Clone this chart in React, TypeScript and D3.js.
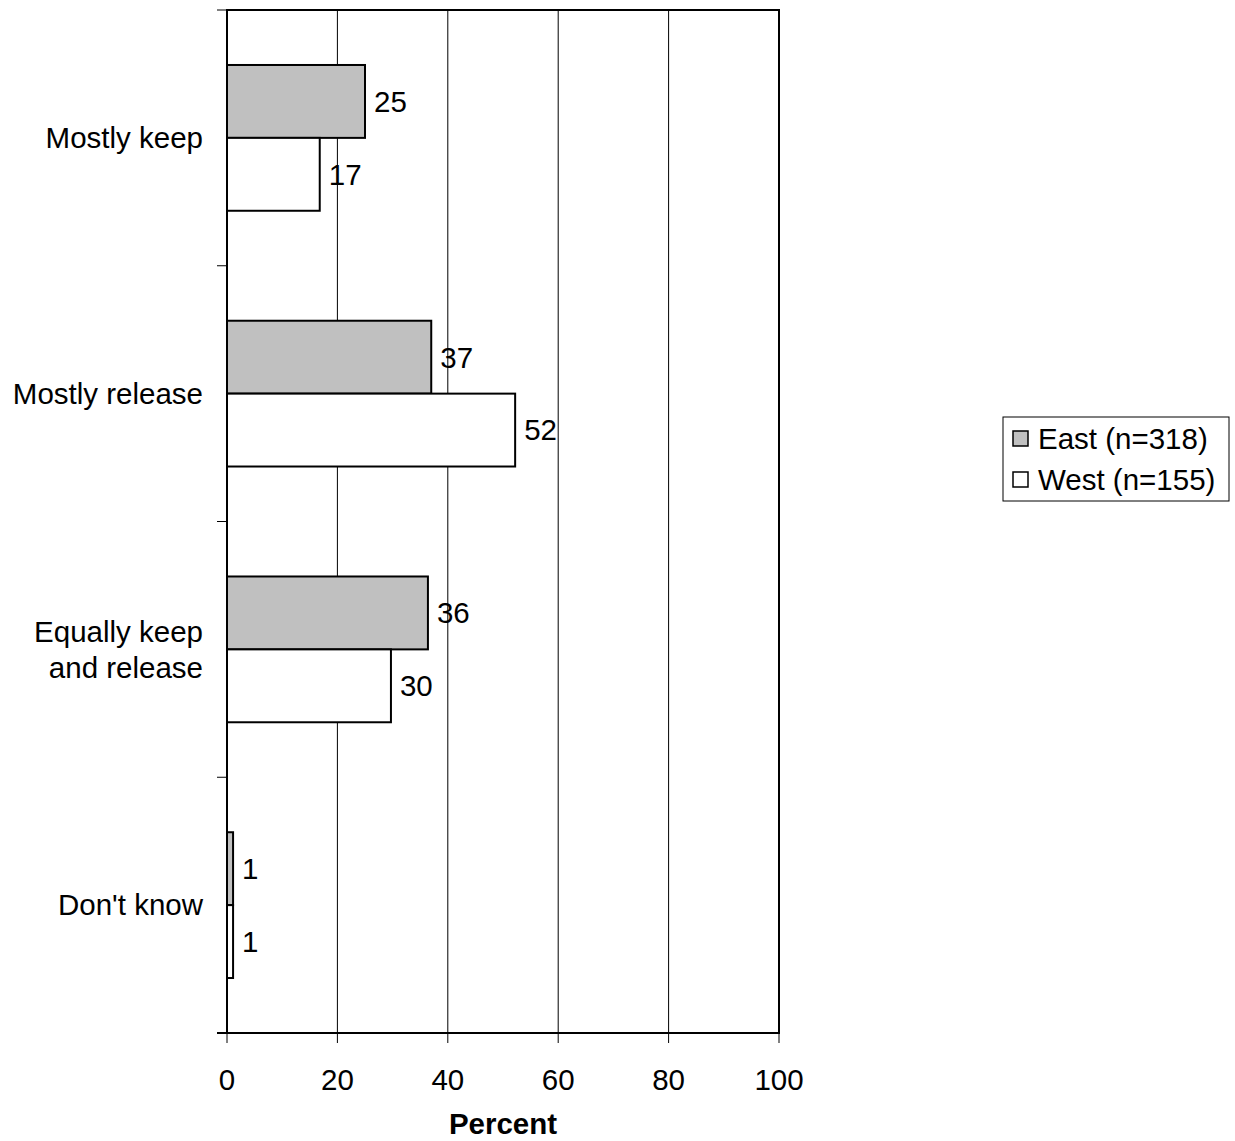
import React from "react";
import * as d3 from "d3";

const categories: string[][] = [["Mostly keep"], ["Mostly release"], ["Equally keep", "and release"], ["Don't know"]];
const eastValues = [25, 37, 36.4, 1.1];
const westValues = [16.8, 52.2, 29.7, 1.1];
const seriesNames = ["East (n=318)", "West (n=155)"];
const seriesColors = ["#c0c0c0", "#ffffff"];
const xTicks = [0, 20, 40, 60, 80, 100];

export default function App() {
  const W = 1235, H = 1141;
  const left = 227, right = 779, top = 10, bottom = 1033;
  const fs = 29.5;
  const x = d3.scaleLinear().domain([0, 100]).range([left, right]);
  const y = d3.scaleBand<number>().domain(d3.range(categories.length)).range([top, bottom]).paddingInner(0).paddingOuter(0);
  const bandH = y.bandwidth();
  const barH = bandH * 0.285;
  const font = "Liberation Sans, Arial, sans-serif";
  const series = [eastValues, westValues];
  const bandEdges = d3.range(categories.length + 1).map(i => top + i * bandH);

  return (
    <svg width={W} height={H} style={{ position: "absolute", left: 0, top: 0 }} fontFamily={font}>
      <rect x={0} y={0} width={W} height={H} fill="#fff" />
      {xTicks.slice(1, -1).map(t => (
        <line key={t} x1={x(t)} x2={x(t)} y1={top} y2={bottom} stroke="#000" strokeWidth={1} />
      ))}
      {categories.map((c, i) => {
        const cy = (y(i) as number) + bandH / 2;
        return (
          <g key={i}>
            {series.map((vals, s) => {
              const by = cy - barH + s * barH;
              return (
                <g key={s}>
                  <rect x={x(0)} y={by} width={x(vals[i]) - x(0)} height={barH} fill={seriesColors[s]} stroke="#000" strokeWidth={2} />
                  <text x={x(vals[i]) + 9} y={by + barH / 2} dy="0.35em" fontSize={fs}>{Math.round(vals[i])}</text>
                </g>
              );
            })}
            <text x={203} y={cy} textAnchor="end" fontSize={fs}>
              {c.map((line, k) => (
                <tspan key={k} x={203} dy={k === 0 ? `${0.35 - (c.length - 1) * 0.61}em` : "1.22em"}>{line}</tspan>
              ))}
            </text>
          </g>
        );
      })}
      <rect x={left} y={top} width={right - left} height={bottom - top} fill="none" stroke="#000" strokeWidth={2} />
      {bandEdges.map((e, i) => (
        <line key={i} x1={left - 10} x2={left} y1={e} y2={e} stroke="#000" strokeWidth={1} />
      ))}
      {xTicks.map(t => (
        <g key={t}>
          <line x1={x(t)} x2={x(t)} y1={bottom} y2={bottom + 10} stroke="#000" strokeWidth={1} />
          <text x={x(t)} y={1080} dy="0.35em" textAnchor="middle" fontSize={fs}>{t}</text>
        </g>
      ))}
      <line x1={left - 10} x2={left} y1={bottom} y2={bottom} stroke="#000" strokeWidth={2} />
      <text x={(left + right) / 2} y={1124} dy="0.35em" textAnchor="middle" fontSize={fs} fontWeight="bold">Percent</text>
      <g>
        <rect x={1003} y={417} width={226} height={84} fill="#fff" stroke="#000" strokeWidth={1} />
        {seriesNames.map((n, s) => (
          <g key={n}>
            <rect x={1013} y={431 + s * 41} width={15} height={15} fill={seriesColors[s]} stroke="#000" strokeWidth={1.5} />
            <text x={1038} y={439 + s * 41} dy="0.35em" fontSize={fs}>{n}</text>
          </g>
        ))}
      </g>
    </svg>
  );
}
